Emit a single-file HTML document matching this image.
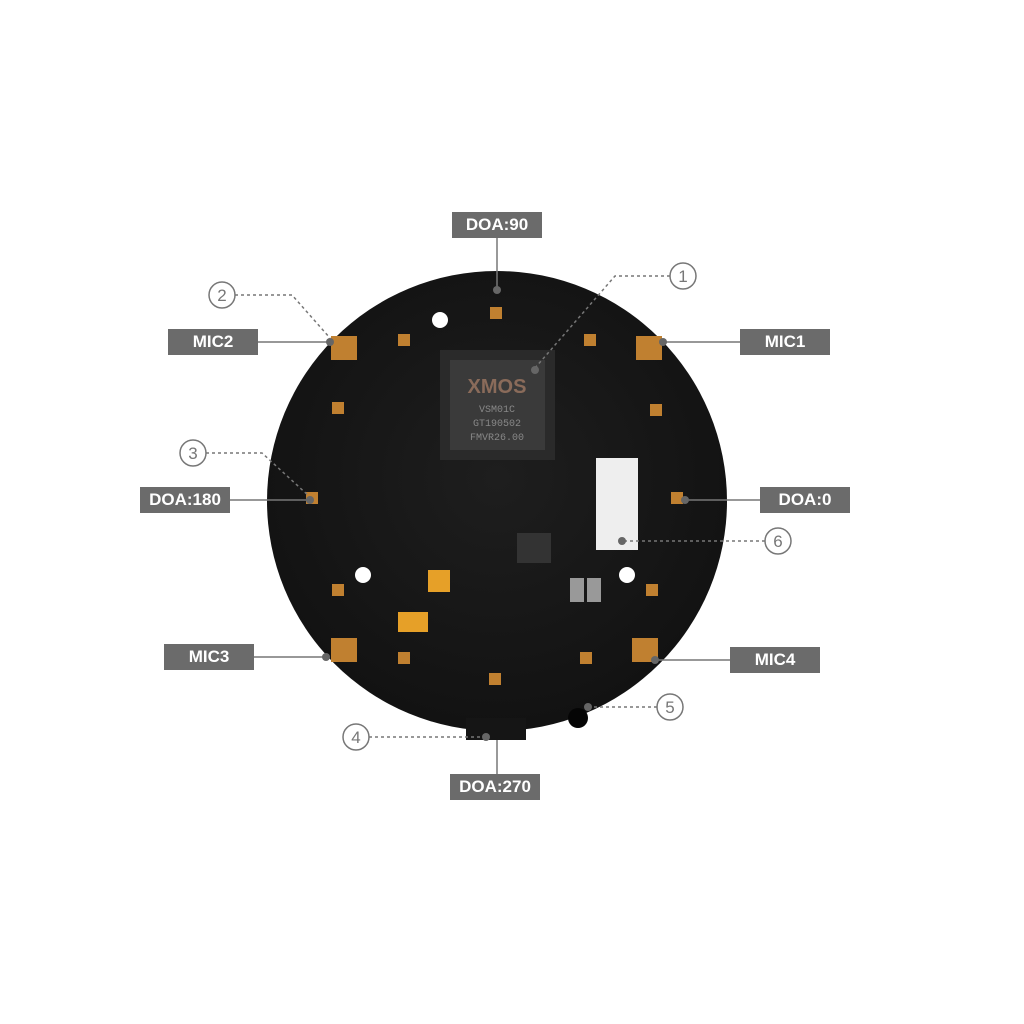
<!DOCTYPE html>
<html><head><style>
body{margin:0;width:1024px;height:1024px;background:#fff;position:relative;overflow:hidden;font-family:"Liberation Sans",sans-serif}
.lb{position:absolute;background:#6b6b6b;color:#fff;font-weight:bold;font-size:17px;text-align:center;line-height:26px;height:26px;width:90px}
</style></head><body>
<svg width="1024" height="1024" style="position:absolute;left:0;top:0">
<defs><radialGradient id="g" cx="50%" cy="45%" r="55%"><stop offset="0" stop-color="#1e1e1e"/><stop offset="1" stop-color="#121212"/></radialGradient></defs>
<circle cx="497" cy="501" r="230" fill="url(#g)"/>
<rect x="466" y="718" width="60" height="22" fill="#151515"/>
<!-- chip -->
<rect x="440" y="350" width="115" height="110" fill="#2a2a2a"/>
<rect x="450" y="360" width="95" height="90" fill="#3a3a3a"/>
<text x="497" y="393" fill="#8a6b5a" font-size="20" font-weight="bold" text-anchor="middle" font-family="Liberation Sans">XMOS</text>
<text x="497" y="412" fill="#888" font-size="10" text-anchor="middle" font-family="Liberation Mono">VSM01C</text>
<text x="497" y="426" fill="#888" font-size="10" text-anchor="middle" font-family="Liberation Mono">GT190502</text>
<text x="497" y="440" fill="#888" font-size="10" text-anchor="middle" font-family="Liberation Mono">FMVR26.00</text>
<rect x="596" y="458" width="42" height="92" fill="#eee"/>
<rect x="517" y="533" width="34" height="30" fill="#333"/>
<rect x="398" y="612" width="30" height="20" fill="#e6a028"/>
<rect x="428" y="570" width="22" height="22" fill="#e6a028"/>
<rect x="570" y="578" width="14" height="24" fill="#999"/>
<rect x="587" y="578" width="14" height="24" fill="#999"/>
<g fill="#c08030">
<rect x="331" y="336" width="26" height="24"/><rect x="636" y="336" width="26" height="24"/>
<rect x="331" y="638" width="26" height="24"/><rect x="632" y="638" width="26" height="24"/>
<rect x="490" y="307" width="12" height="12"/><rect x="306" y="492" width="12" height="12"/>
<rect x="671" y="492" width="12" height="12"/><rect x="489" y="673" width="12" height="12"/>
<rect x="398" y="334" width="12" height="12"/><rect x="584" y="334" width="12" height="12"/>
<rect x="332" y="402" width="12" height="12"/><rect x="650" y="404" width="12" height="12"/>
<rect x="332" y="584" width="12" height="12"/><rect x="646" y="584" width="12" height="12"/>
<rect x="398" y="652" width="12" height="12"/><rect x="580" y="652" width="12" height="12"/>
</g>
<g fill="#fff"><circle cx="440" cy="320" r="8"/><circle cx="363" cy="575" r="8"/><circle cx="627" cy="575" r="8"/></g>
<circle cx="578" cy="718" r="10" fill="#050505"/>
<g stroke="#777" stroke-width="1.5" fill="none" stroke-dasharray="3,3">
<path d="M235 295 H292 L330 338"/><path d="M206 453 H262 L310 497"/>
<path d="M369 737 H486"/><path d="M657 707 H590"/><path d="M765 541 H623"/><path d="M670 276 H615 L535 368"/>
</g>
<g stroke="#777" stroke-width="1.5">
<line x1="258" y1="342" x2="330" y2="342"/><line x1="662" y1="342" x2="740" y2="342"/>
<line x1="230" y1="500" x2="310" y2="500"/><line x1="683" y1="500" x2="760" y2="500"/>
<line x1="254" y1="657" x2="325" y2="657"/><line x1="655" y1="660" x2="730" y2="660"/>
<line x1="497" y1="238" x2="497" y2="290"/><line x1="497" y1="740" x2="497" y2="774"/>
</g>
<g fill="#666"><circle cx="330" cy="342" r="4"/><circle cx="663" cy="342" r="4"/><circle cx="310" cy="500" r="4"/><circle cx="685" cy="500" r="4"/><circle cx="326" cy="657" r="4"/><circle cx="655" cy="660" r="4"/><circle cx="497" cy="290" r="4"/><circle cx="486" cy="737" r="4"/><circle cx="588" cy="707" r="4"/><circle cx="622" cy="541" r="4"/><circle cx="535" cy="370" r="4"/></g>
<g fill="#fff" stroke="#777" stroke-width="1.5"><circle cx="683" cy="276" r="13"/><circle cx="222" cy="295" r="13"/><circle cx="193" cy="453" r="13"/><circle cx="356" cy="737" r="13"/><circle cx="670" cy="707" r="13"/><circle cx="778" cy="541" r="13"/></g>
<g fill="#777" font-size="17" text-anchor="middle" font-family="Liberation Sans">
<text x="683" y="282">1</text><text x="222" y="301">2</text><text x="193" y="459">3</text><text x="356" y="743">4</text><text x="670" y="713">5</text><text x="778" y="547">6</text></g>
</svg>
<div class="lb" style="left:452px;top:212px">DOA:90</div>
<div class="lb" style="left:168px;top:329px">MIC2</div>
<div class="lb" style="left:740px;top:329px">MIC1</div>
<div class="lb" style="left:140px;top:487px">DOA:180</div>
<div class="lb" style="left:760px;top:487px">DOA:0</div>
<div class="lb" style="left:164px;top:644px">MIC3</div>
<div class="lb" style="left:730px;top:647px">MIC4</div>
<div class="lb" style="left:450px;top:774px">DOA:270</div>
</body></html>
